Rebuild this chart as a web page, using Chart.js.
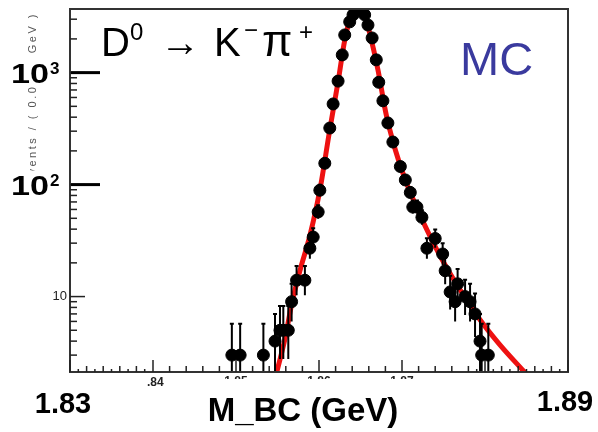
<!DOCTYPE html>
<html>
<head>
<meta charset="utf-8">
<script src="https://cdn.jsdelivr.net/npm/chart.js@4.4.0/dist/chart.umd.min.js"></script>
<style>
    body { margin: 0; background: #fff; }
    #grafica { display: block; }
</style>
</head>
<body>
<canvas id="grafica" width="598" height="432"></canvas>
<script>
//---------------------//
//--|datos_del_ajuste|--//
//---------------------//
const massPts = [1.8495, 1.8505, 1.8533, 1.8547, 1.8553, 1.8557, 1.8563, 1.8567, 1.8573, 1.8583,
    1.8589, 1.8593, 1.8599, 1.8601, 1.8607, 1.8613, 1.8617, 1.8623, 1.8628, 1.8631,
    1.8637, 1.8641, 1.8647, 1.8655, 1.8659, 1.8664, 1.8669, 1.8672, 1.8677, 1.8683,
    1.8689, 1.8698, 1.8704, 1.8710, 1.8713, 1.8718, 1.8724, 1.8730, 1.8740, 1.8749,
    1.8752, 1.8758, 1.8764, 1.8767, 1.8776, 1.8782, 1.8788, 1.8794, 1.8796, 1.8804];
const counts = [3, 3, 3, 4, 5, 5, 5, 9, 14, 14,
    27, 34, 57, 89, 155, 320, 525, 840, 1440, 2170,
    2840, 3280, 3630, 3280, 2660, 2040, 1300, 820, 560, 355,
    240, 145, 110, 85, 63, 63, 51, 27, 33, 24,
    17, 11, 9, 13, 10, 9, 7, 4, 3, 3];
const fitMass = [1.8549, 1.8559, 1.8567, 1.8577, 1.8589, 1.8601, 1.8613, 1.8623, 1.8631, 1.8640,
    1.8647, 1.8654, 1.8661, 1.8671, 1.8681, 1.8692, 1.8704, 1.8722, 1.8746, 1.8770,
    1.8794, 1.8818, 1.8848];
const fitValue = [2.1, 4.2, 8.5, 17, 35, 89, 310, 830, 1950, 3470,
    4200, 3470, 2260, 1060, 420, 204, 110, 53, 23, 11.5,
    6.2, 3.7, 2.1];
const xRange = [1.83, 1.89];
const yRange = [2.12, 3700];
const bigYTicks = [{ v: 1000, sup: "3" }, { v: 100, sup: "2" }];
const smallYTicks = ["10"];
const xTickLabels = ["1.85", "1.86", "1.87"];

//-------------------------------//
//--|ejes_y_textos_estilo_ROOT|--//
//-------------------------------//
const rootStyle = {
    id: "rootStyle",
    afterDatasetsDraw(chart) {
        const ctx = chart.ctx;
        const xs = chart.scales.x;
        const ys = chart.scales.y;
        const a = chart.chartArea;
        // barras de error
        ctx.save();
        ctx.beginPath();
        ctx.rect(a.left, a.top, a.right - a.left, a.bottom - a.top);
        ctx.clip();
        ctx.strokeStyle = "#000";
        ctx.lineWidth = 2;
        massPts.forEach((m, i) => {
            const n = counts[i];
            const px = xs.getPixelForValue(m);
            const yTop = ys.getPixelForValue(n + Math.sqrt(n) + 1);
            const lo = n - Math.sqrt(n);
            const yBot = lo > 0 ? ys.getPixelForValue(lo) : a.bottom + 5;
            ctx.beginPath();
            ctx.moveTo(px, yTop);
            ctx.lineTo(px, yBot);
            ctx.moveTo(px - 2, yTop);
            ctx.lineTo(px + 2, yTop);
            ctx.stroke();
        });
        ctx.restore();
    },
    afterDraw(chart) {
        const ctx = chart.ctx;
        const xs = chart.scales.x;
        const ys = chart.scales.y;
        const a = chart.chartArea;
        ctx.save();
        ctx.letterSpacing = "0px";
        // marco
        ctx.strokeStyle = "#333";
        ctx.lineWidth = 2;
        ctx.strokeRect(a.left, a.top, a.right - a.left, a.bottom - a.top);
        // ticks y (hacia dentro)
        ctx.lineWidth = 1.5;
        ctx.strokeStyle = "#222";
        for (let d = 1; d <= 1000; d *= 10) {
            for (let k = 1; k <= 9; k++) {
                const v = k * d;
                if (v < yRange[0] || v > yRange[1]) continue;
                const py = ys.getPixelForValue(v);
                const len = k === 1 ? 15 : 7;
                ctx.beginPath();
                ctx.moveTo(a.left, py);
                ctx.lineTo(a.left + len, py);
                ctx.stroke();
            }
        }
        // ticks x (hacia dentro)
        for (let i = 0; i <= 60; i++) {
            const v = xRange[0] + i * 0.001;
            const px = xs.getPixelForValue(v);
            let len = 0;
            if (i % 10 === 0) len = 12;
            else if (i % 2 === 0) len = 6;
            else if (i < 10 || i > 47) len = 3;
            if (!len) continue;
            ctx.beginPath();
            ctx.moveTo(px, a.bottom);
            ctx.lineTo(px, a.bottom - len);
            ctx.stroke();
        }
        // titulo eje y (parcialmente tapado)
        ctx.save();
        ctx.translate(33, 12);
        ctx.rotate(-Math.PI / 2);
        ctx.fillStyle = "#555";
        ctx.font = "11px 'Liberation Sans', Arial";
        ctx.letterSpacing = "2.5px";
        ctx.textAlign = "right";
        ctx.textBaseline = "middle";
        ctx.fillText("Events / ( 0.0005 GeV )", 0, 0);
        ctx.letterSpacing = "0px";
        ctx.restore();
        ctx.letterSpacing = "0px";
        // etiquetas grandes 10^3, 10^2
        bigYTicks.forEach(t => {
            const py = ys.getPixelForValue(t.v);
            ctx.fillStyle = "#fff";
            ctx.fillRect(10, py - 14, 58, 28);
            ctx.fillStyle = "#000";
            ctx.textAlign = "left";
            ctx.textBaseline = "alphabetic";
            ctx.save();
            ctx.translate(11, py + 10);
            ctx.scale(1.22, 1);
            ctx.font = "bold 28px 'Liberation Sans', Arial";
            ctx.fillText("10", 0, 0);
            ctx.restore();
            ctx.font = "bold 17px 'Liberation Sans', Arial";
            ctx.fillText(t.sup, 50, py + 1);
            ctx.lineWidth = 3;
            ctx.strokeStyle = "#000";
            ctx.beginPath();
            ctx.moveTo(a.left + 1, py);
            ctx.lineTo(a.left + 30, py);
            ctx.stroke();
        });
        // etiqueta pequeña 10
        smallYTicks.forEach(t => {
            const py = ys.getPixelForValue(Number(t));
            ctx.fillStyle = "#222";
            ctx.font = "13px 'Liberation Sans', Arial";
            ctx.textAlign = "right";
            ctx.textBaseline = "middle";
            ctx.fillText(t, a.left - 3, py);
        });
        // etiquetas x pequeñas, recortadas
        ctx.fillStyle = "#222";
        ctx.font = "bold 12px 'Liberation Sans', Arial";
        ctx.textAlign = "left";
        ctx.textBaseline = "top";
        ctx.fillText(".84", xs.getPixelForValue(1.84) - 6, a.bottom + 5);
        ctx.textAlign = "center";
        xTickLabels.forEach(t => {
            ctx.fillText(t, xs.getPixelForValue(Number(t)), a.bottom + 4);
        });
        ctx.fillStyle = "#fff";
        ctx.fillRect(xs.getPixelForValue(1.8445), a.bottom + 7, 260, 14);
        // etiquetas x grandes
        ctx.fillStyle = "#000";
        ctx.font = "bold 29px 'Liberation Sans', Arial";
        ctx.textBaseline = "alphabetic";
        ctx.fillText("1.83", 63, 413);
        ctx.fillText("1.89", 565, 411);
        ctx.font = "bold 33px 'Liberation Sans', Arial";
        ctx.fillText("M_BC (GeV)", 303, 421);
        // D0 -> K- pi+
        ctx.textAlign = "left";
        ctx.font = "40px 'Liberation Sans', Arial";
        ctx.fillText("D", 101, 56);
        ctx.fillText("\u2192", 160, 56);
        ctx.fillText("K", 214, 56);
        ctx.font = "44px 'Liberation Sans', Arial";
        ctx.fillText("\u03c0", 262, 56);
        ctx.font = "24px 'Liberation Sans', Arial";
        ctx.fillText("0", 130, 40);
        ctx.fillText("\u2212", 244, 38);
        ctx.fillText("+", 299, 40);
        // MC
        ctx.fillStyle = "#3a3a9e";
        ctx.font = "47px 'Liberation Sans', Arial";
        ctx.fillText("MC", 460, 75);
        ctx.restore();
    }
};

//-----------------------//
//--|grafica_principal|--//
//-----------------------//
document.addEventListener("DOMContentLoaded", () => {
    const ctx = document.getElementById("grafica").getContext("2d");
    new Chart(ctx, {
        type: "scatter",
        data: {
            datasets: [
                {
                    data: fitMass.map((m, i) => ({ x: m, y: fitValue[i] })),
                    showLine: true,
                    borderColor: "#ee1111",
                    borderWidth: 5,
                    pointRadius: 0,
                    cubicInterpolationMode: "monotone",
                    order: 2
                },
                {
                    data: massPts.map((m, i) => ({ x: m, y: counts[i] })),
                    backgroundColor: "#000",
                    borderColor: "#000",
                    pointRadius: 6,
                    order: 1
                }
            ]
        },
        options: {
            responsive: false,
            animation: false,
            layout: { padding: { left: 70, right: 30, top: 9, bottom: 60 } },
            plugins: { legend: { display: false }, tooltip: { enabled: false } },
            scales: {
                x: { type: "linear", min: xRange[0], max: xRange[1], display: false },
                y: { type: "logarithmic", min: yRange[0], max: yRange[1], display: false }
            }
        },
        plugins: [rootStyle]
    });
});
</script>
</body>
</html>
